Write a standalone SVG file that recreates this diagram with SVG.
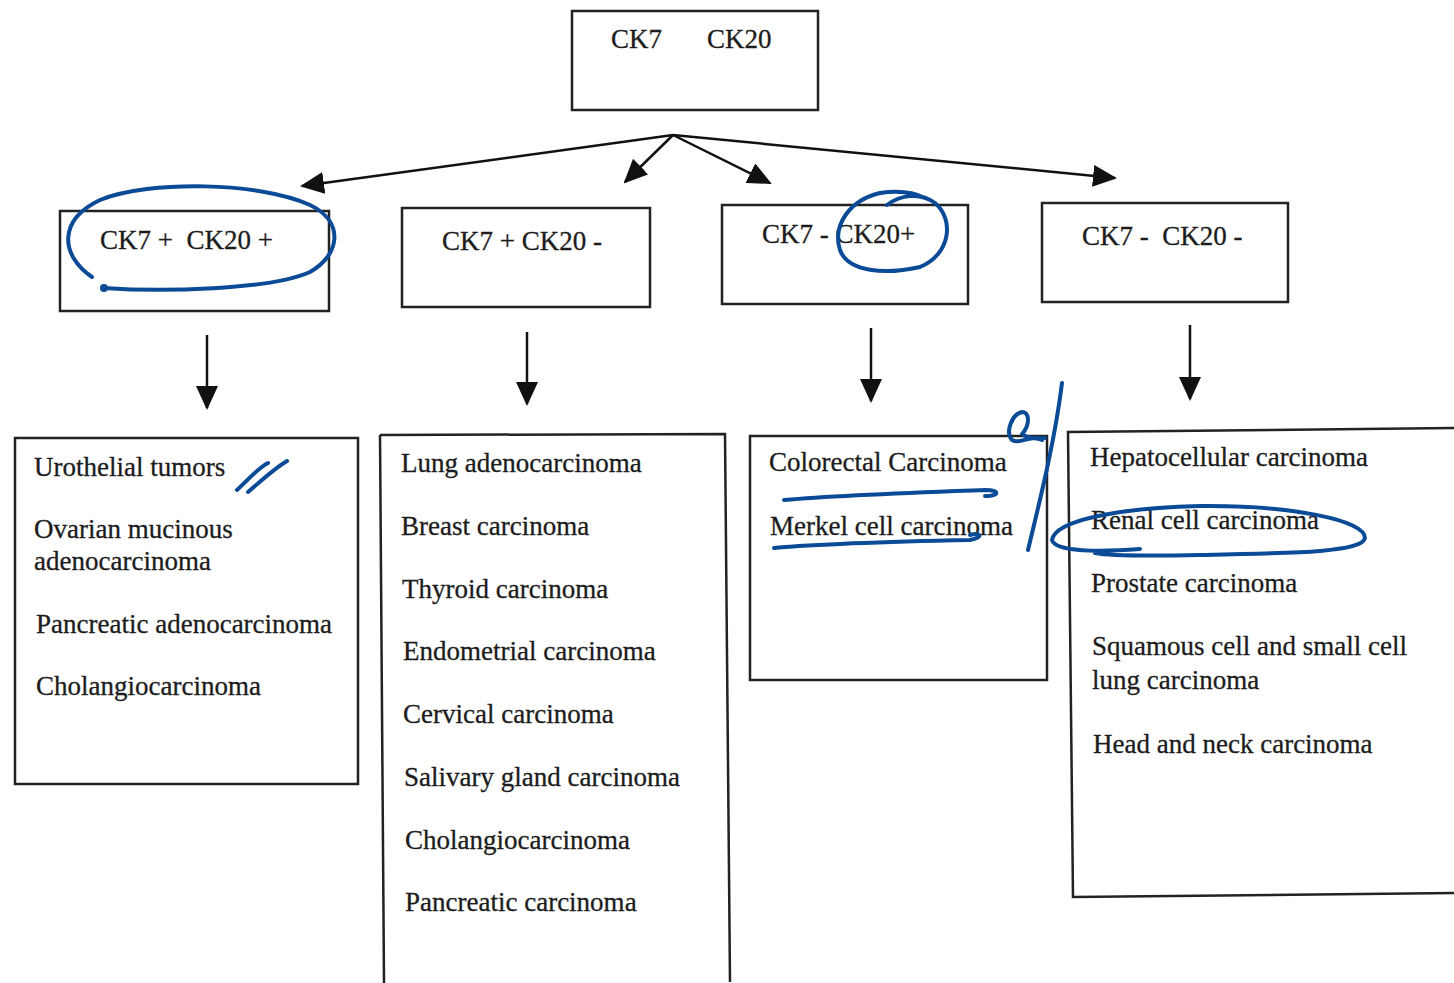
<svg xmlns="http://www.w3.org/2000/svg" width="1454" height="983" viewBox="0 0 1454 983">
<style>
.box{fill:none;stroke:#222;stroke-width:2.5}
.t{font-family:"Liberation Serif","Times New Roman",serif;font-size:27px;fill:#1c1c1c;stroke:#1c1c1c;stroke-width:0.3}
.c{stroke:#111;stroke-width:2.5;fill:none}
.ink{fill:none;stroke:#0b4a96;stroke-width:4;stroke-linecap:round;stroke-linejoin:round}
</style>
<defs>
<marker id="ahb" markerWidth="24" markerHeight="22" refX="22" refY="11" orient="auto" markerUnits="userSpaceOnUse" viewBox="0 0 24 22">
<path d="M0,0 L24,11 L0,22 z" fill="#111"/>
</marker>
</defs>
<rect width="1454" height="983" fill="#fff"/>
<g id="root">
<rect class="box" x="572" y="11" width="246" height="99"/>
<text class="t" x="611" y="48">CK7</text>
<text class="t" x="707" y="48">CK20</text>
</g>
<g id="n1">
<rect class="box" x="60" y="211" width="269" height="100"/>
<text class="t" x="100" y="249" xml:space="preserve">CK7 +  CK20 +</text>
</g>
<g id="n2">
<rect class="box" x="402" y="208" width="248" height="99"/>
<text class="t" x="442" y="250">CK7 + CK20 -</text>
</g>
<g id="n3">
<rect class="box" x="722" y="205" width="246" height="99"/>
<text class="t" x="762" y="243">CK7 - CK20+</text>
</g>
<g id="n4">
<rect class="box" x="1042" y="203" width="246" height="99"/>
<text class="t" x="1082" y="245" xml:space="preserve">CK7 -  CK20 -</text>
</g>
<g id="l1">
<rect class="box" x="15" y="438" width="343" height="346"/>
<text class="t" x="34" y="476">Urothelial tumors</text>
<text class="t" x="34" y="538">Ovarian mucinous</text>
<text class="t" x="34" y="570">adenocarcinoma</text>
<text class="t" x="36" y="633">Pancreatic adenocarcinoma</text>
<text class="t" x="36" y="695">Cholangiocarcinoma</text>
</g>
<g id="l2">
<path class="box" d="M380,435 L725,434 L730,982 M380,435 L384,983"/>
<text class="t" x="401" y="472">Lung adenocarcinoma</text>
<text class="t" x="401" y="535">Breast carcinoma</text>
<text class="t" x="402" y="598">Thyroid carcinoma</text>
<text class="t" x="403" y="660">Endometrial carcinoma</text>
<text class="t" x="403" y="723">Cervical carcinoma</text>
<text class="t" x="404" y="786">Salivary gland carcinoma</text>
<text class="t" x="405" y="849">Cholangiocarcinoma</text>
<text class="t" x="405" y="911">Pancreatic carcinoma</text>
</g>
<g id="l3">
<rect class="box" x="750" y="436" width="297" height="244"/>
<text class="t" x="769" y="471">Colorectal Carcinoma</text>
<text class="t" x="770" y="535">Merkel cell carcinoma</text>
</g>
<g id="l4">
<path class="box" d="M1456,428 L1068,432 L1073,897 L1456,893"/>
<text class="t" x="1090" y="466">Hepatocellular carcinoma</text>
<text class="t" x="1091" y="529">Renal cell carcinoma</text>
<text class="t" x="1091" y="592">Prostate carcinoma</text>
<text class="t" x="1092" y="655">Squamous cell and small cell</text>
<text class="t" x="1092" y="689">lung carcinoma</text>
<text class="t" x="1093" y="753">Head and neck carcinoma</text>
</g>
<g id="connectors">
<line class="c" x1="673" y1="135" x2="302" y2="186" marker-end="url(#ahb)"/>
<line class="c" x1="673" y1="135" x2="625" y2="182" marker-end="url(#ahb)"/>
<line class="c" x1="673" y1="135" x2="770" y2="183" marker-end="url(#ahb)"/>
<line class="c" x1="673" y1="135" x2="1115" y2="178" marker-end="url(#ahb)"/>
<line class="c" x1="207" y1="335" x2="207" y2="408" marker-end="url(#ahb)"/>
<line class="c" x1="527" y1="332" x2="527" y2="404" marker-end="url(#ahb)"/>
<line class="c" x1="871" y1="328" x2="871" y2="401" marker-end="url(#ahb)"/>
<line class="c" x1="1190" y1="325" x2="1190" y2="399" marker-end="url(#ahb)"/>
</g>
<g id="annotations">
<path class="ink" d="M92,277 C60,255 58,220 100,200 C150,180 260,182 310,205 C345,222 340,255 310,272 C270,290 160,292 104,288"/>
<circle cx="104" cy="288" r="4" fill="#0b4a96"/>
<path class="ink" d="M887,205 C900,195 920,192 935,203 C955,220 950,255 920,267 C885,275 848,272 840,250 C832,225 850,200 880,193 C900,190 915,193 925,198"/>
<path class="ink" d="M237,490 C250,478 258,468 268,463 M248,492 C262,480 275,468 287,461"/>
<path class="ink" d="M784,500 C840,495 930,492 985,490 C1000,490 1000,496 985,496"/>
<path class="ink" d="M774,548 C830,543 920,541 970,540 C985,537 980,532 970,535"/>
<path class="ink" d="M1042,440 C1030,434 1020,445 1012,440 C1005,432 1012,414 1022,412 C1030,412 1030,425 1022,434 C1030,440 1040,438 1045,438"/>
<path class="ink" d="M1062,383 C1055,440 1040,500 1028,550"/>
<path class="ink" d="M1140,549 C1100,552 1055,552 1052,540 C1055,520 1120,508 1200,506 C1290,505 1365,520 1365,538 C1362,552 1300,553 1200,555 C1150,556 1110,556 1095,553"/>
</g>
</svg>
